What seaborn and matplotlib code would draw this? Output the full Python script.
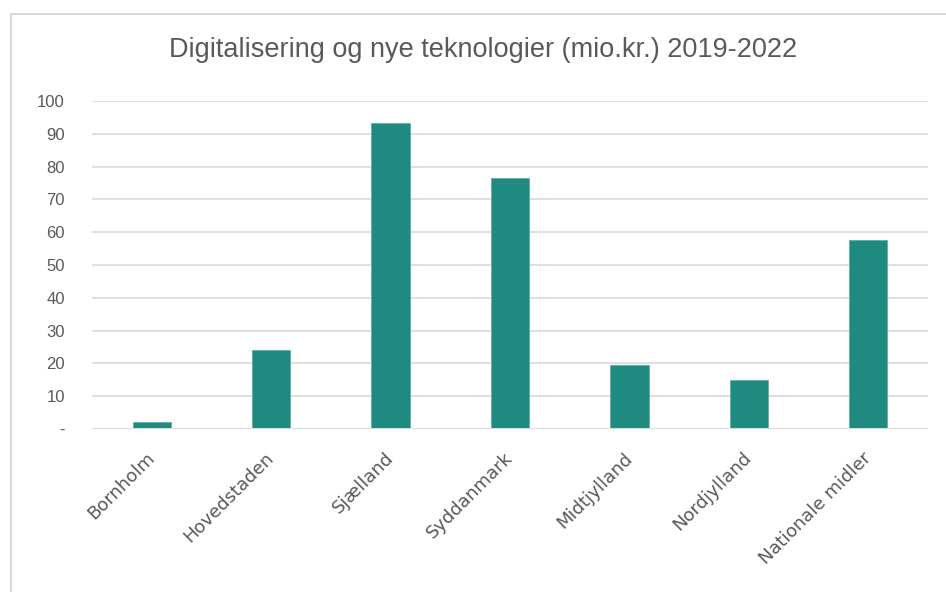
import matplotlib
matplotlib.use("Agg")
import matplotlib.pyplot as plt
import seaborn as sns
import pandas as pd
from matplotlib.patches import Rectangle
from matplotlib.ticker import FixedLocator

regions = ["Bornholm", "Hovedstaden", "Sjælland", "Syddanmark", "Midtjylland", "Nordjylland", "Nationale midler"]
values = [2.0, 24.2, 93.2, 76.5, 19.4, 15.0, 57.5]
yticks = [0, 10, 20, 30, 40, 50, 60, 70, 80, 90, 100]
ytick_labels = ["-", "10", "20", "30", "40", "50", "60", "70", "80", "90", "100"]
title = "Digitalisering og nye teknologier (mio.kr.) 2019-2022"

sns.set_theme(style="white")
plt.rcParams["font.family"] = ["Liberation Sans", "DejaVu Sans"]

df = pd.DataFrame({"region": regions, "value": values})

fig = plt.figure(figsize=(9.46, 5.92), dpi=100)
ax = fig.add_axes([92/946, 1-429/592, (928-92)/946, (429-101)/592])

sns.barplot(data=df, x="region", y="value", color="#1E8A80", width=0.32,
            saturation=1, ax=ax, edgecolor="#5FB0A8", linewidth=0.6, zorder=3)

ax.set_ylim(0, 100)
ax.set_xlim(-0.5, 6.5)
ax.yaxis.set_major_locator(FixedLocator(yticks))
ax.set_yticklabels(ytick_labels)
ax.grid(axis="y", color="#D9D9D9", linewidth=1.2, zorder=0)
ax.axhline(0, color="#D9D9D9", linewidth=1.5, zorder=4)
for s in ax.spines.values():
    s.set_visible(False)
ax.set_xlabel("")
ax.set_ylabel("")
ax.tick_params(axis="y", length=0, pad=19.5, labelsize=12, labelcolor="#595959")
ax.tick_params(axis="x", length=0, pad=19, labelcolor="#595959")
for lab in ax.get_xticklabels():
    lab.set_rotation(45)
    lab.set_ha("right")
    lab.set_va("center")
    lab.set_rotation_mode("anchor")
    lab.set_fontfamily(["DejaVu Sans"])
    lab.set_fontsize(13)

fig.text(483/946, 1-50/592, title, ha="center", va="center",
         fontsize=19.5, color="#595959", family=["Liberation Sans", "DejaVu Sans"])

fig.patches.append(Rectangle((11/946, -0.1), 2.0, 1.1 - 14/592, transform=fig.transFigure,
                             fill=False, edgecolor="#D9D9D9", linewidth=1.5, zorder=0))

fig.savefig("out.png", dpi=100)
